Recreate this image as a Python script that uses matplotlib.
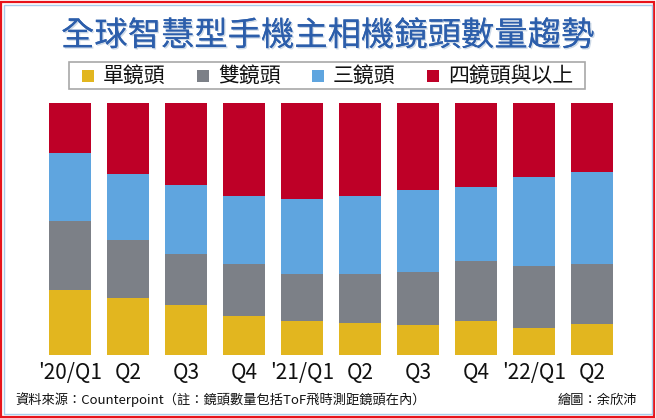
import matplotlib.pyplot as plt
import matplotlib.patheffects as pe
from matplotlib.patches import Rectangle

plt.rcParams["font.family"] = ["Noto Sans CJK TC", "DejaVu Sans"]

quarters = ["'20/Q1", "Q2", "Q3", "Q4", "'21/Q1", "Q2", "Q3", "Q4", "'22/Q1", "Q2"]
series_names = ["單鏡頭", "雙鏡頭", "三鏡頭", "四鏡頭與以上"]

# share of shipments (%)
single_lens = [25.7, 22.6, 19.8, 15.6, 13.4, 12.8, 11.8, 13.4, 10.8, 12.3]
dual_lens = [27.5, 23.1, 20.2, 20.6, 18.9, 19.4, 21.2, 23.9, 24.6, 23.9]
triple_lens = [26.9, 26.3, 27.5, 27.0, 29.5, 31.0, 32.3, 29.2, 35.1, 36.4]
quad_plus = [20.0, 27.9, 32.4, 36.8, 38.2, 36.8, 34.8, 33.5, 29.5, 27.4]

colors = ["#E2B61F", "#7C8087", "#5FA5DF", "#BE0027"]

W, H = 656, 418
fig = plt.figure(figsize=(W / 100, H / 100), dpi=100)

# frame: red outer line, light blue inner line
fig.patches.append(Rectangle((1 / W, 1 / H), 1 - 3 / W, 1 - 3 / H, transform=fig.transFigure,
                             fill=False, edgecolor="#E8141B", linewidth=1.6))
fig.patches.append(Rectangle((4 / W, 4.5 / H), 1 - 8.5 / W, 1 - 9 / H, transform=fig.transFigure,
                             fill=False, edgecolor="#A9CDEB", linewidth=1.0))

# title
fig.text(0.5, 1 - 36 / H, "全球智慧型手機主相機鏡頭數量趨勢", ha="center", va="center",
         fontsize=24, color="#2C5EAB", fontweight="medium",
         path_effects=[pe.withSimplePatchShadow(offset=(1, -1), shadow_rgbFace="#9DB4CF", alpha=0.5),
                       pe.Normal()])

# legend box
fig.patches.append(Rectangle((69 / W, 1 - 89 / H), 516 / W, 27 / H, transform=fig.transFigure,
                             facecolor="white", edgecolor="#A8A8A8", linewidth=1.2))
legend_x = [82, 197, 312, 427]
for x, name, c in zip(legend_x, series_names, colors):
    fig.patches.append(Rectangle((x / W, 1 - 82 / H), 12 / W, 12 / H, transform=fig.transFigure,
                                 facecolor=c, edgecolor="none"))
    fig.text((x + 21) / W, 1 - 76 / H, name, ha="left", va="center", fontsize=15, color="#111111")

ax = fig.add_axes([41 / W, 1 - 355 / H, 580 / W, 252 / H])
positions = list(range(len(quarters)))
bottom = [0] * len(quarters)
for values, c in zip([single_lens, dual_lens, triple_lens, quad_plus], colors):
    ax.bar(positions, values, bottom=bottom, width=0.724, color=c, edgecolor="none")
    bottom = [b + v for b, v in zip(bottom, values)]

ax.set_xlim(-0.5, len(quarters) - 0.5)
ax.set_ylim(0, 100)
ax.set_xticks(positions)
ax.set_xticklabels(quarters, fontsize=15, color="#111111",
                   family=["Liberation Sans Narrow", "Noto Sans CJK TC"])
ax.tick_params(axis="x", length=0, pad=5)
ax.set_yticks([])
for s in ax.spines.values():
    s.set_visible(False)

fig.text(15 / W, 1 - 400 / H, "資料來源：Counterpoint（註：鏡頭數量包括ToF飛時測距鏡頭在內）",
         ha="left", va="center", fontsize=9.5, color="#111111")
fig.text(637 / W, 1 - 400 / H, "繪圖：余欣沛", ha="right", va="center", fontsize=9.5, color="#111111")

fig.savefig("out.png", dpi=100)
